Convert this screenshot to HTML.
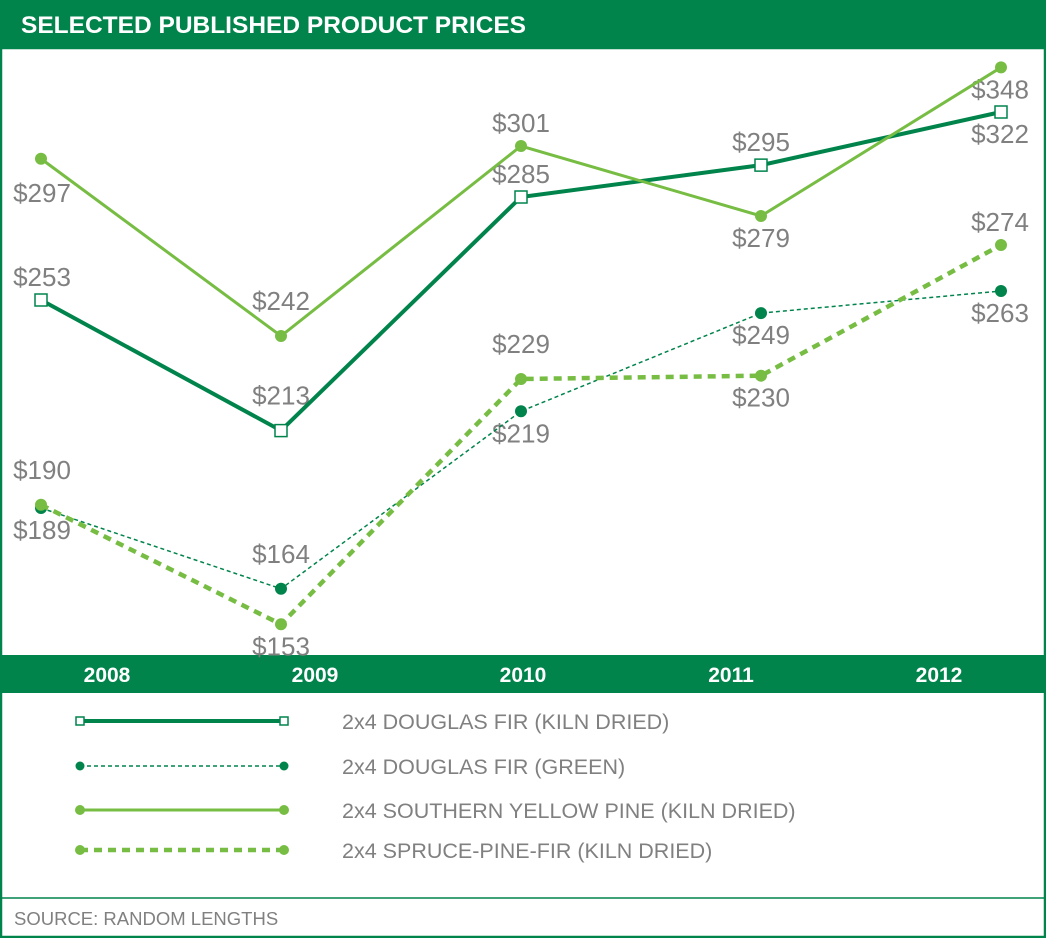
<!DOCTYPE html>
<html><head><meta charset="utf-8">
<style>
body{margin:0;background:#fff;}
#wrap{position:relative;width:1046px;height:938px;overflow:hidden;font-family:"Liberation Sans",sans-serif;}
svg text{font-family:"Liberation Sans",sans-serif;}
</style></head>
<body>
<div id="wrap">
<svg id="chart" width="1046" height="938">
  <rect x="0" y="0" width="1046" height="938" fill="#fff"/>
  <rect x="0" y="0" width="1046" height="48" fill="#00844c"/>
  <text x="21" y="33" fill="#fff" font-size="24.5" font-weight="bold">SELECTED PUBLISHED PRODUCT PRICES</text>
  <rect x="1" y="48" width="1044" height="889" fill="none" stroke="#00844c" stroke-width="2.5"/>
  <rect x="0" y="655" width="1046" height="38" fill="#00844c"/>
  <line x1="0" y1="898" x2="1046" y2="898" stroke="#00844c" stroke-width="1.5"/>
  <text x="14" y="925" fill="#808080" font-size="18.5">SOURCE: RANDOM LENGTHS</text>
  <g id="years"></g>
  <g id="series"></g>
  <g id="legend"></g>
</svg>
</div>
<script>
const years = ["2008","2009","2010","2011","2012"];
const dfKiln = [253,213,285,295,322];
const dfGreen = [189,164,219,249,263];
const syp = [297,242,301,279,348];
const spf = [190,153,229,230,274];
const dfKilnSide = ["a","A","a","a","b"];
const dfGreenSide = ["b","A","b","b","b"];
const sypSide = ["B","A","a","b","b"];
const spfSide = ["A","b","A","b","a"];
const seriesNames = ["2x4 DOUGLAS FIR (KILN DRIED)","2x4 DOUGLAS FIR (GREEN)","2x4 SOUTHERN YELLOW PINE (KILN DRIED)","2x4 SPRUCE-PINE-FIR (KILN DRIED)"];

const NS="http://www.w3.org/2000/svg";
const DARK="#00844c", LIGHT="#77bd43", GRAY="#808080";
function xScale(i){return 41+i*240;}
// piecewise-linear value scale (the published chart uses a non-uniform vertical scale)
const yDom=[150,189,229,242,253,263,274,279,285,301,322,350];
const yRng=[634,508,379,336,300,291,245,216,197,146,112,64];
function yScale(v){
  for(let k=0;k<yDom.length-1;k++){
    if(v<=yDom[k+1]||k===yDom.length-2){
      const t=(v-yDom[k])/(yDom[k+1]-yDom[k]);
      return yRng[k]+t*(yRng[k+1]-yRng[k]);
    }
  }
}
function mk(tag,attrs,parent){const e=document.createElementNS(NS,tag);for(const k in attrs)e.setAttribute(k,attrs[k]);parent.appendChild(e);return e;}

const yg=document.getElementById('years');
years.forEach((y,i)=>{
  const t=mk('text',{x:107+i*208,y:682,'text-anchor':'middle',fill:'#fff','font-size':21,'font-weight':'bold'},yg);
  
  
  t.textContent=y;
});

const defs=[
 {data:dfKiln,side:dfKilnSide,color:DARK,w:4,dash:null,marker:'square',id:'df-kiln'},
 {data:dfGreen,side:dfGreenSide,color:DARK,w:1.5,dash:'4 3',marker:'dot',r:6,id:'df-green'},
 {data:syp,side:sypSide,color:LIGHT,w:3,dash:null,marker:'dot',r:6,id:'syp'},
 {data:spf,side:spfSide,color:LIGHT,w:4.5,dash:'8 6',marker:'dot',r:6,id:'spf'}
];
const sideOff={a:-14,A:-26,b:31,B:43};
const sg=document.getElementById('series');
const labelG=mk('g',{},sg);
defs.forEach(d=>{
  const g=mk('g',{},sg);
  
  
  const pts=d.data.map((v,i)=>xScale(i)+','+yScale(v)).join(' ');
  const pl=mk('polyline',{points:pts,fill:'none',stroke:d.color,'stroke-width':d.w},g);
  if(d.dash)pl.setAttribute('stroke-dasharray',d.dash);
  
  
  d.data.forEach((v,i)=>{
    const cx=xScale(i),cy=yScale(v);
    let m;
    if(d.marker==='square') m=mk('rect',{x:cx-6,y:cy-6,width:12,height:12,fill:'#fff',stroke:d.color,'stroke-width':1.5},g);
    else m=mk('circle',{cx:cx,cy:cy,r:d.r,fill:d.color},g);
    
    
    let lx=cx; if(i===0)lx=Math.max(cx,42); if(i===years.length-1)lx=Math.min(cx,1000);
    const ly=cy+sideOff[d.side[i]];
    const t=mk('text',{x:lx,y:ly,'text-anchor':'middle',fill:GRAY,'font-size':26},labelG);
    
    
    t.textContent='$'+v;
  });
});

const lg=document.getElementById('legend');
defs.forEach((d,k)=>{
  const y=[721,766,810,850][k];
  const g=mk('g',{},lg);
  
  
  const l=mk('line',{x1:80,y1:y,x2:284,y2:y,stroke:d.color,'stroke-width':d.w},g);
  if(d.dash)l.setAttribute('stroke-dasharray',d.dash);
  [80,284].forEach(x=>{
    if(d.marker==='square')mk('rect',{x:x-4,y:y-4,width:8,height:8,fill:'#fff',stroke:d.color,'stroke-width':1.5},g);
    else mk('circle',{cx:x,cy:y,r:k===1?4.5:5,fill:d.color},g);
  });
  const t=mk('text',{x:342,y:y+8,fill:GRAY,'font-size':21.5},g);
  t.textContent=seriesNames[k];
});
</script>
</body></html>
